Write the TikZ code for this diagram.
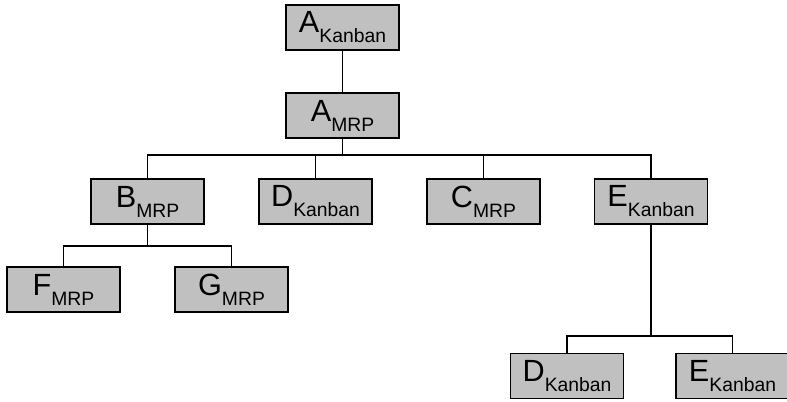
\documentclass[tikz,border=0pt]{standalone}
\usepackage{fontspec}
\setmainfont{Liberation Sans}
\usepackage{tikz}

\newcommand{\partlbl}[2]{{\fontsize{23}{25}\selectfont #1}{\fontsize{14.5}{16}\selectfont\raisebox{-7.5pt}{#2}}}

\tikzset{
	partbox/.style={draw, line width=1.4pt, fill={rgb,255:red,192;green,192;blue,192}, minimum width=84.75pt, minimum height=33.75pt, inner sep=0pt},
	link/.style={line width=1.3pt}
}

\begin{document}
\begin{tikzpicture}[x=0.75pt,y=0.75pt,yscale=-1,xscale=1]
	\useasboundingbox (0,0) rectangle (787,402);
	
	% top level
	\node [partbox] (akanban) at (342.5,27.5) {\partlbl{A}{Kanban}};
	\node [partbox] (amrp) at (342.5,115.5) {\partlbl{A}{MRP}};
	
	% second level
	\node [partbox] (bmrp) at (147.5,201.5) {\partlbl{B}{MRP}};
	\node [partbox] (dkanban) at (315.5,201.5) {\partlbl{D}{Kanban}};
	\node [partbox] (cmrp) at (483.5,201.5) {\partlbl{C}{MRP}};
	\node [partbox] (ekanban) at (651,201.5) {\partlbl{E}{Kanban}};
	
	% third level
	\node [partbox] (fmrp) at (63.5,289.5) {\partlbl{F}{MRP}};
	\node [partbox] (gmrp) at (231.5,289.5) {\partlbl{G}{MRP}};
	\node [partbox] (dkanbanb) at (567,376) {\partlbl{D}{Kanban}};
	\node [partbox] (ekanbanb) at (732.5,376) {\partlbl{E}{Kanban}};
	
	% bus points
	\coordinate (busa) at (342.5,155);
	\coordinate (busb) at (147.5,246);
	\coordinate (buse) at (651,336);
	
	% links
	\draw [link] (akanban) -- (amrp);
	\draw [link] (amrp) -- (busa);
	\draw [link] (busa) -| (bmrp.north);
	\draw [link] (busa) -| (dkanban.north);
	\draw [link] (busa) -| (cmrp.north);
	\draw [link] (busa) -| (ekanban.north);
	\draw [link] (bmrp) -- (busb);
	\draw [link] (busb) -| (fmrp.north);
	\draw [link] (busb) -| (gmrp.north);
	\draw [link] (ekanban) -- (buse);
	\draw [link] (buse) -| (dkanbanb.north);
	\draw [link] (buse) -| (ekanbanb.north);
\end{tikzpicture}
\end{document}
